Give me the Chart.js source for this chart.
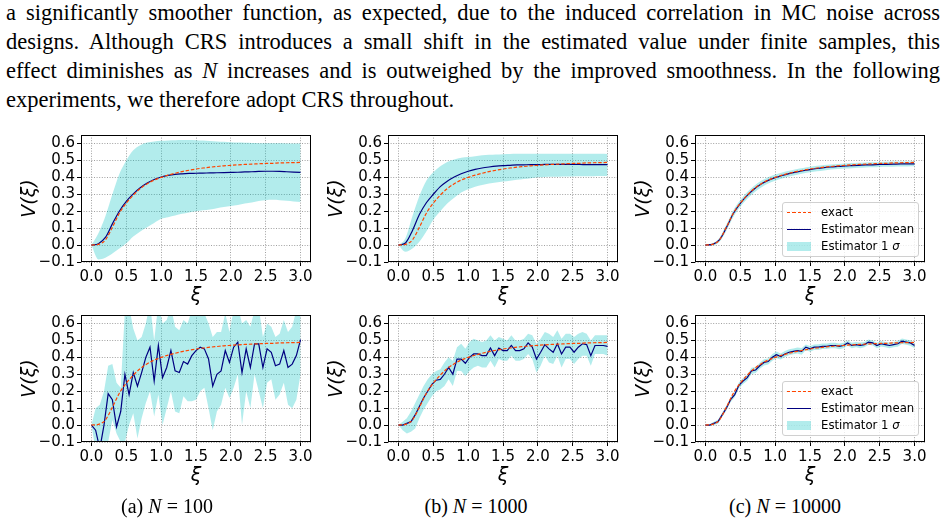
<!DOCTYPE html>
<html>
<head>
<meta charset="utf-8">
<script src="https://cdn.jsdelivr.net/npm/chart.js@4.4.1/dist/chart.umd.min.js"></script>
<style>
  body { margin: 0; width: 947px; height: 523px; background: #fff; position: relative; overflow: hidden; }
  .para { position: absolute; left: 6px; top: -2px; width: 934px; font-family: "Liberation Serif", serif; font-size: 22.5px; line-height: 29px; color: #000; }
  .para div { text-align: justify; text-align-last: justify; }
  .para div.last { text-align-last: left; }
  canvas { position: absolute; }
  .legend { position: absolute; width: 137px; height: 55px; box-sizing: border-box; border: 1px solid #d0d0d0; border-radius: 3px; background: rgba(255,255,255,0.8); font-family: "DejaVu Sans", sans-serif; font-size: 11.7px; color: #000; padding-top: 0.5px; z-index: 2; }
  .legend .row { position: relative; height: 17px; line-height: 17px; padding-left: 38px; white-space: nowrap; }
  .legend .h { position: absolute; left: 4px; width: 24px; }
  .legend .dash { top: 8px; height: 1.3px; background: repeating-linear-gradient(90deg, #ff4500 0 3.5px, transparent 3.5px 5.3px); }
  .legend .solid { top: 8px; height: 1.3px; background: #000080; }
  .legend .patch { top: 4px; height: 9px; background: rgba(0,191,191,0.3); }
  .cap { position: absolute; top: 495px; width: 220px; text-align: center; font-family: "Liberation Serif", serif; font-size: 20px; }
</style>
</head>
<body>
<div class="para">
  <div>a significantly smoother function, as expected, due to the induced correlation in MC noise across</div>
  <div>designs. Although CRS introduces a small shift in the estimated value under finite samples, this</div>
  <div>effect diminishes as <i>N</i> increases and is outweighed by the improved smoothness. In the following</div>
  <div class="last">experiments, we therefore adopt CRS throughout.</div>
</div>

<canvas id="a1" width="325" height="183" style="left:6px; top:124px"></canvas>
<canvas id="b1" width="325" height="183" style="left:313px; top:124px"></canvas>
<canvas id="c1" width="325" height="183" style="left:620px; top:124px"></canvas>
<canvas id="a2" width="325" height="183" style="left:6px; top:304px"></canvas>
<canvas id="b2" width="325" height="183" style="left:313px; top:304px"></canvas>
<canvas id="c2" width="325" height="183" style="left:620px; top:304px"></canvas>

<div class="legend" style="left:782px; top:202px">
  <div class="row"><span class="h dash"></span>exact</div>
  <div class="row"><span class="h solid"></span>Estimator mean</div>
  <div class="row"><span class="h patch"></span>Estimator 1 <i>σ</i></div>
</div>
<div class="legend" style="left:782px; top:381px">
  <div class="row"><span class="h dash"></span>exact</div>
  <div class="row"><span class="h solid"></span>Estimator mean</div>
  <div class="row"><span class="h patch"></span>Estimator 1 <i>σ</i></div>
</div>

<div class="cap" style="left:57px">(a) <i>N</i> = 100</div>
<div class="cap" style="left:366px">(b) <i>N</i> = 1000</div>
<div class="cap" style="left:675px">(c) <i>N</i> = 10000</div>

<script>
// tick labels
const xTicks = [0, 0.5, 1, 1.5, 2, 2.5, 3];
const yTicks = [-0.1, 0, 0.1, 0.2, 0.3, 0.4, 0.5, 0.6];

// smooth grid (top row + exact curve)
const xCoarse = [0, 0.1, 0.2, 0.3, 0.4, 0.5, 0.6, 0.7, 0.8, 0.9, 1.0, 1.1, 1.2, 1.3, 1.4, 1.5, 1.6, 1.7, 1.8, 1.9, 2.0, 2.1, 2.2, 2.3, 2.4, 2.5, 2.6, 2.7, 2.8, 2.9, 3.0];
const exact = [0.000, 0.004, 0.030, 0.105, 0.188, 0.248, 0.295, 0.333, 0.362, 0.384, 0.400, 0.413, 0.424, 0.434, 0.442, 0.449, 0.455, 0.460, 0.464, 0.468, 0.471, 0.474, 0.476, 0.478, 0.480, 0.482, 0.483, 0.485, 0.486, 0.487, 0.488];

// top row: N = 100
const meanA1 = [0.000, 0.008, 0.045, 0.125, 0.200, 0.258, 0.302, 0.338, 0.366, 0.387, 0.402, 0.412, 0.418, 0.421, 0.423, 0.424, 0.425, 0.426, 0.427, 0.428, 0.429, 0.430, 0.432, 0.433, 0.435, 0.436, 0.436, 0.435, 0.433, 0.431, 0.429];
const hiA1 = [0.000, 0.070, 0.170, 0.300, 0.420, 0.500, 0.560, 0.590, 0.605, 0.612, 0.616, 0.618, 0.619, 0.620, 0.620, 0.619, 0.617, 0.615, 0.612, 0.610, 0.607, 0.605, 0.604, 0.603, 0.602, 0.602, 0.601, 0.601, 0.600, 0.600, 0.600];
const loA1 = [0.000, -0.085, -0.075, -0.050, -0.020, 0.010, 0.050, 0.080, 0.105, 0.130, 0.155, 0.165, 0.175, 0.185, 0.193, 0.200, 0.205, 0.210, 0.218, 0.225, 0.230, 0.237, 0.245, 0.252, 0.260, 0.265, 0.267, 0.265, 0.262, 0.258, 0.255];

// top row: N = 1000
const meanB1 = [0.000, 0.012, 0.085, 0.180, 0.250, 0.300, 0.345, 0.377, 0.402, 0.421, 0.436, 0.447, 0.455, 0.461, 0.466, 0.469, 0.471, 0.473, 0.474, 0.475, 0.475, 0.476, 0.476, 0.476, 0.476, 0.476, 0.476, 0.475, 0.475, 0.475, 0.475];
const hiB1 = [0.000, 0.040, 0.170, 0.290, 0.380, 0.430, 0.465, 0.490, 0.505, 0.515, 0.520, 0.525, 0.530, 0.533, 0.535, 0.537, 0.538, 0.539, 0.540, 0.540, 0.540, 0.540, 0.540, 0.540, 0.540, 0.540, 0.540, 0.540, 0.539, 0.539, 0.538];
const loB1 = [0.000, -0.040, -0.020, 0.020, 0.080, 0.150, 0.200, 0.245, 0.280, 0.310, 0.330, 0.345, 0.355, 0.363, 0.370, 0.375, 0.380, 0.385, 0.390, 0.395, 0.400, 0.402, 0.403, 0.404, 0.405, 0.405, 0.406, 0.407, 0.407, 0.408, 0.408];

// top row: N = 10000
const meanC1 = [0.000, 0.004, 0.030, 0.103, 0.186, 0.246, 0.293, 0.331, 0.360, 0.382, 0.398, 0.411, 0.422, 0.431, 0.439, 0.446, 0.452, 0.457, 0.461, 0.464, 0.467, 0.469, 0.471, 0.473, 0.474, 0.476, 0.477, 0.478, 0.479, 0.479, 0.480];
const hiC1 = [0.000, 0.010, 0.042, 0.121, 0.206, 0.266, 0.313, 0.351, 0.380, 0.401, 0.416, 0.429, 0.439, 0.448, 0.455, 0.462, 0.468, 0.473, 0.476, 0.479, 0.482, 0.484, 0.486, 0.488, 0.489, 0.491, 0.492, 0.493, 0.494, 0.494, 0.495];
const loC1 = [0.000, -0.002, 0.018, 0.085, 0.166, 0.226, 0.273, 0.311, 0.340, 0.363, 0.380, 0.393, 0.405, 0.414, 0.423, 0.430, 0.436, 0.441, 0.446, 0.449, 0.452, 0.454, 0.456, 0.458, 0.459, 0.461, 0.462, 0.463, 0.464, 0.464, 0.465];

// noisy grid (bottom row)
const xFine = [0, 0.06, 0.12, 0.18, 0.24, 0.3, 0.36, 0.42, 0.48, 0.54, 0.6, 0.66, 0.72, 0.78, 0.84, 0.9, 0.96, 1.02, 1.08, 1.14, 1.2, 1.26, 1.32, 1.38, 1.44, 1.5, 1.56, 1.62, 1.68, 1.74, 1.8, 1.86, 1.92, 1.98, 2.04, 2.1, 2.16, 2.22, 2.28, 2.34, 2.4, 2.46, 2.52, 2.58, 2.64, 2.7, 2.76, 2.82, 2.88, 2.94, 3.0];

// bottom row: N = 100
const meanA2 = [0.000, -0.030, -0.140, 0.000, 0.186, 0.150, -0.010, 0.080, 0.300, 0.180, 0.310, 0.230, 0.310, 0.400, 0.460, 0.260, 0.470, 0.280, 0.340, 0.440, 0.320, 0.310, 0.375, 0.360, 0.410, 0.440, 0.460, 0.450, 0.390, 0.230, 0.300, 0.320, 0.440, 0.370, 0.460, 0.490, 0.310, 0.450, 0.340, 0.480, 0.480, 0.340, 0.450, 0.430, 0.350, 0.360, 0.440, 0.340, 0.360, 0.410, 0.505];
const hiA2 = [0.000, 0.100, 0.120, 0.200, 0.350, 0.360, 0.250, 0.220, 0.680, 0.700, 0.570, 0.500, 0.520, 0.600, 0.720, 0.500, 0.720, 0.600, 0.620, 0.700, 0.580, 0.560, 0.620, 0.600, 0.680, 0.700, 0.700, 0.660, 0.600, 0.520, 0.550, 0.550, 0.660, 0.550, 0.680, 0.700, 0.600, 0.620, 0.580, 0.680, 0.700, 0.520, 0.600, 0.580, 0.520, 0.540, 0.620, 0.550, 0.580, 0.680, 0.720];
const loA2 = [0.000, -0.150, -0.300, -0.120, -0.100, 0.030, -0.050, -0.100, -0.100, 0.000, 0.070, -0.080, 0.040, 0.130, 0.200, 0.050, 0.180, 0.000, 0.100, 0.200, 0.080, 0.070, 0.170, 0.140, 0.140, 0.150, 0.200, 0.220, 0.100, -0.030, 0.080, 0.120, 0.220, 0.160, 0.220, 0.300, 0.000, 0.200, 0.100, 0.300, 0.200, 0.100, 0.250, 0.270, 0.150, 0.180, 0.250, 0.120, 0.100, 0.150, 0.300];

// bottom row: N = 1000
const meanB2 = [0.000, 0.000, 0.010, 0.020, 0.060, 0.110, 0.160, 0.200, 0.240, 0.265, 0.270, 0.300, 0.340, 0.300, 0.390, 0.390, 0.365, 0.400, 0.420, 0.420, 0.410, 0.410, 0.455, 0.410, 0.455, 0.440, 0.440, 0.470, 0.440, 0.440, 0.450, 0.485, 0.460, 0.390, 0.430, 0.475, 0.450, 0.430, 0.480, 0.420, 0.460, 0.460, 0.430, 0.460, 0.480, 0.475, 0.410, 0.470, 0.470, 0.470, 0.465];
const hiB2 = [0.000, 0.020, 0.040, 0.080, 0.130, 0.180, 0.230, 0.270, 0.300, 0.320, 0.330, 0.370, 0.400, 0.380, 0.460, 0.480, 0.450, 0.490, 0.510, 0.500, 0.490, 0.500, 0.530, 0.500, 0.520, 0.510, 0.500, 0.530, 0.500, 0.500, 0.510, 0.540, 0.530, 0.480, 0.510, 0.550, 0.540, 0.520, 0.560, 0.510, 0.540, 0.540, 0.520, 0.540, 0.550, 0.540, 0.500, 0.530, 0.530, 0.530, 0.530];
const loB2 = [0.000, -0.030, -0.050, -0.040, -0.020, 0.040, 0.090, 0.130, 0.170, 0.200, 0.210, 0.230, 0.270, 0.230, 0.320, 0.320, 0.290, 0.320, 0.340, 0.350, 0.340, 0.340, 0.380, 0.340, 0.390, 0.380, 0.380, 0.410, 0.380, 0.380, 0.390, 0.420, 0.390, 0.310, 0.350, 0.410, 0.370, 0.360, 0.410, 0.340, 0.390, 0.390, 0.360, 0.390, 0.410, 0.410, 0.350, 0.420, 0.420, 0.420, 0.410];

// bottom row: N = 10000
const meanC2 = [0.000, 0.000, 0.010, 0.020, 0.060, 0.100, 0.150, 0.180, 0.235, 0.260, 0.280, 0.320, 0.325, 0.350, 0.370, 0.375, 0.400, 0.415, 0.405, 0.420, 0.430, 0.435, 0.440, 0.435, 0.460, 0.450, 0.460, 0.460, 0.465, 0.465, 0.470, 0.470, 0.465, 0.470, 0.485, 0.470, 0.475, 0.470, 0.475, 0.490, 0.485, 0.470, 0.480, 0.475, 0.470, 0.475, 0.480, 0.495, 0.490, 0.485, 0.470];
const hiC2 = [0.000, 0.005, 0.020, 0.032, 0.073, 0.114, 0.165, 0.196, 0.252, 0.278, 0.298, 0.338, 0.343, 0.368, 0.388, 0.393, 0.420, 0.435, 0.423, 0.438, 0.447, 0.452, 0.458, 0.455, 0.476, 0.467, 0.476, 0.477, 0.481, 0.481, 0.486, 0.486, 0.482, 0.486, 0.500, 0.486, 0.491, 0.487, 0.491, 0.506, 0.500, 0.486, 0.496, 0.491, 0.487, 0.491, 0.497, 0.511, 0.505, 0.501, 0.487];
const loC2 = [0.000, -0.006, 0.000, 0.008, 0.047, 0.086, 0.135, 0.164, 0.218, 0.242, 0.262, 0.302, 0.307, 0.332, 0.352, 0.357, 0.380, 0.395, 0.387, 0.402, 0.413, 0.418, 0.422, 0.415, 0.444, 0.433, 0.444, 0.443, 0.449, 0.449, 0.454, 0.454, 0.448, 0.454, 0.470, 0.454, 0.459, 0.453, 0.459, 0.474, 0.470, 0.454, 0.464, 0.459, 0.453, 0.459, 0.463, 0.479, 0.475, 0.469, 0.453];

const BAND = "rgba(0, 191, 191, 0.3)";
const tickFont = { family: "DejaVu Sans", size: 15 };
const labelFont = { family: "DejaVu Sans", size: 19, style: "italic" };

function pts(xs, ys) {
  return xs.map((x, i) => ({ x: x, y: ys[i] }));
}

function fmt(v) {
  return v.toFixed(1).replace("-", "\u2212");
}

// matplotlib-style box around the plot area
const framePlugin = {
  id: "frame",
  afterDatasetsDraw(chart) {
    const a = chart.chartArea;
    const ctx = chart.ctx;
    ctx.save();
    ctx.strokeStyle = "#000";
    ctx.lineWidth = 1;
    ctx.strokeRect(a.left + 0.5, a.top + 0.5, a.right - a.left - 1, a.bottom - a.top - 1);
    ctx.restore();
  },
};

function makeChart(id, xs, mean, lo, hi, smooth) {
  const interp = smooth ? "monotone" : "default";
  return new Chart(document.getElementById(id), {
    type: "line",
    data: {
      datasets: [
        {
          label: "exact",
          data: pts(xCoarse, exact),
          borderColor: "#ff4500",
          borderWidth: 1.2,
          borderDash: [3.5, 1.8],
          cubicInterpolationMode: "monotone",
          pointRadius: 0,
          fill: false,
          order: 0,
        },
        {
          label: "Estimator mean",
          data: pts(xs, mean),
          borderColor: "#000080",
          borderWidth: 1.2,
          cubicInterpolationMode: interp,
          pointRadius: 0,
          fill: false,
          order: 1,
        },
        {
          label: "lower",
          data: pts(xs, lo),
          borderColor: "rgba(0,0,0,0)",
          borderWidth: 0,
          cubicInterpolationMode: interp,
          pointRadius: 0,
          fill: false,
          order: 3,
        },
        {
          label: "Estimator 1 σ",
          data: pts(xs, hi),
          borderColor: "rgba(0,0,0,0)",
          borderWidth: 0,
          backgroundColor: BAND,
          cubicInterpolationMode: interp,
          pointRadius: 0,
          fill: "-1",
          order: 2,
        },
      ],
    },
    options: {
      responsive: false,
      animation: false,
      events: [],
      layout: { padding: { left: 0, top: 8, right: 20, bottom: 0 } },
      plugins: {
        legend: { display: false },
        tooltip: { enabled: false },
      },
      scales: {
        x: {
          type: "linear",
          min: -0.15,
          max: 3.15,
          afterBuildTicks: (s) => { s.ticks = xTicks.map((v) => ({ value: v })); },
          afterFit: (s) => { s.height = 45; },
          ticks: { font: tickFont, color: "#000", padding: 2, maxRotation: 0, autoSkip: false, callback: fmt },
          grid: { color: "#a0a0a0", lineWidth: 1, tickColor: "#000", tickLength: 4, tickWidth: 1 },
          border: { display: false, dash: [1, 1.6] },
          title: { display: true, text: "ξ", font: labelFont, color: "#000", padding: { top: 0, bottom: 0 } },
        },
        y: {
          type: "linear",
          min: -0.1,
          max: 0.65,
          afterBuildTicks: (s) => { s.ticks = yTicks.map((v) => ({ value: v })); },
          afterFit: (s) => { s.width = 75; },
          ticks: { font: tickFont, color: "#000", padding: 2, autoSkip: false, callback: fmt },
          grid: { color: "#a0a0a0", lineWidth: 1, tickColor: "#000", tickLength: 4, tickWidth: 1 },
          border: { display: false, dash: [1, 1.6] },
          title: { display: true, text: "V(ξ)", font: labelFont, color: "#000", padding: { top: 13, bottom: 0 } },
        },
      },
    },
    plugins: [framePlugin],
  });
}

makeChart("a1", xCoarse, meanA1, loA1, hiA1, true);
makeChart("b1", xCoarse, meanB1, loB1, hiB1, true);
makeChart("c1", xCoarse, meanC1, loC1, hiC1, true);
makeChart("a2", xFine, meanA2, loA2, hiA2, false);
makeChart("b2", xFine, meanB2, loB2, hiB2, false);
makeChart("c2", xFine, meanC2, loC2, hiC2, false);
</script>
</body>
</html>
